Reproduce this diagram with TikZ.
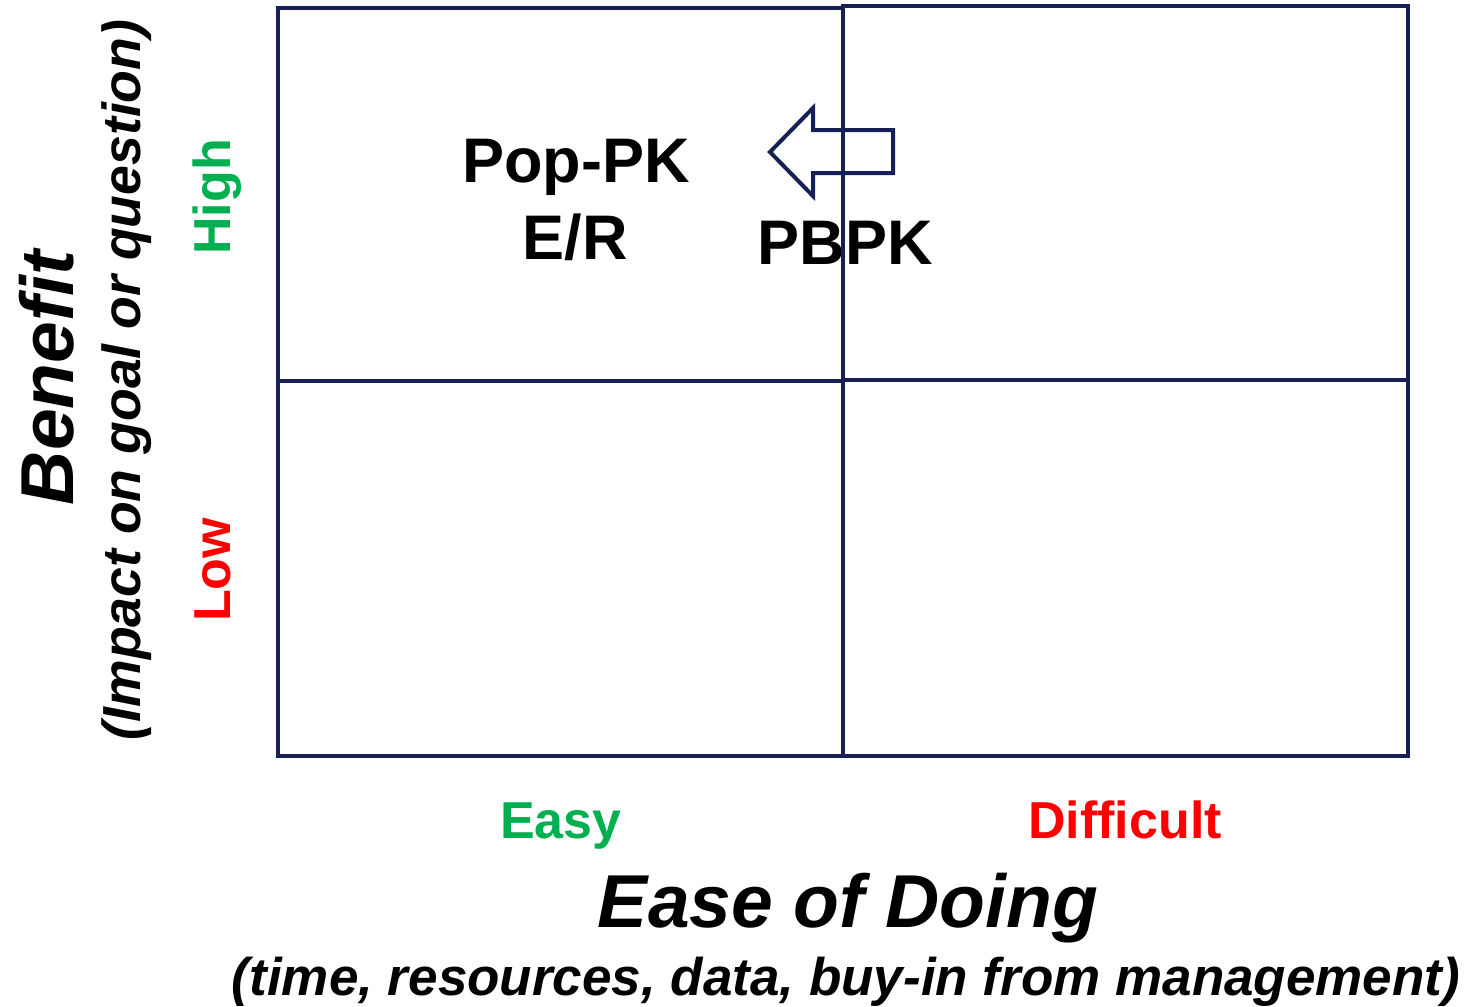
\documentclass[tikz,border=0pt]{standalone}
\usepackage{fontspec}
\setmainfont{Liberation Sans}
\usepackage{tikz}

\definecolor{gridnavy}{RGB}{22,32,84}
\definecolor{easygreen}{RGB}{0,176,80}
\definecolor{hardred}{RGB}{255,0,0}

\tikzset{
  quad/.style={draw=gridnavy, line width=2.3pt},
  model/.style={anchor=base, inner sep=0pt, font=\fontsize{31.5}{36}\selectfont\bfseries},
  level/.style={anchor=base, inner sep=0pt, font=\fontsize{26}{30}\selectfont\bfseries},
  axistitle/.style={anchor=base, inner sep=0pt, font=\fontsize{37.5}{42}\selectfont\bfseries\itshape},
  axisnote/.style={anchor=base, inner sep=0pt, font=\fontsize{26.8}{30}\selectfont\bfseries\itshape}
}

\begin{document}
\begin{tikzpicture}[x=0.5pt, y=-0.5pt]
	\useasboundingbox (0,0) rectangle (1465,1006);
	% models in the matrix
	\node[model] (poppk) at (576,182) {Pop-PK};
	\node[model] (er) at (575,259) {E/R};
	\node[model] (pbpk) at (845,264) {PBPK};
	% shift arrow
	\draw[gridnavy, line width=2pt, line join=miter]
		(770,152) -- (813,108) -- (813,130) -- (893,130) -- (893,173) -- (813,173) -- (813,196) -- cycle;
	% quadrants
	\draw[quad] (278,8) rectangle (843,756);
	\draw[quad] (278,381) -- (843,381);
	\draw[quad] (843,6) rectangle (1408,756);
	\draw[quad] (843,380) -- (1408,380);
	% vertical axis
	\node[level, text=easygreen, rotate=90] (high) at (230,197) {High};
	\node[level, text=hardred, rotate=90] (low) at (230,570) {Low};
	\node[axistitle, rotate=90] (benefit) at (73,378) {Benefit};
	\node[axisnote, rotate=90] (impact) at (140,380) {(Impact on goal or question)};
	% horizontal axis
	\node[level, text=easygreen] (easy) at (561,838) {Easy};
	\node[level, text=hardred] (difficult) at (1125,838) {Difficult};
	\node[axistitle] (ease) at (848,927) {Ease of Doing};
	\node[axisnote, font=\fontsize{26.5}{30}\selectfont\bfseries\itshape] (timeres) at (846,995) {(time, resources, data, buy-in from management)};
\end{tikzpicture}
\end{document}
